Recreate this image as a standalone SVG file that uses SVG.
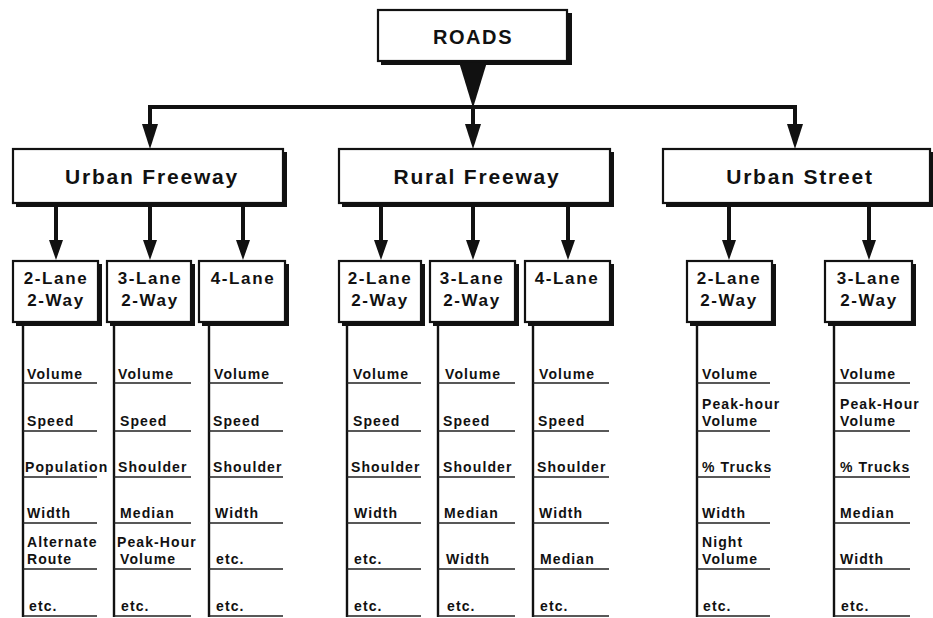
<svg xmlns="http://www.w3.org/2000/svg" width="933" height="618" viewBox="0 0 933 618">
<style>
.sh{fill:#111}
.bx{fill:#fff;stroke:#111;stroke-width:2.2}
.t{font-family:"Liberation Sans",Arial,Helvetica,sans-serif;font-weight:bold;fill:#111}
.root{font-size:20px;letter-spacing:1.6px}
.cat{font-size:21px;letter-spacing:1.8px}
.lane{font-size:17px;letter-spacing:1.6px}
.it{font-size:14px;letter-spacing:1.1px}
.ln{stroke:#111;stroke-width:4;fill:none}
.vl{stroke:#111;stroke-width:2.4;fill:none}
.ul{stroke:#222;stroke-width:1.6;fill:none}
.ah{fill:#111}
</style>
<rect width="933" height="618" fill="#fff"/>
<g id="connectors">
<polygon class="ah" points="459,62 487,62 473,108"/>
<line class="ln" x1="148" y1="107" x2="797" y2="107"/>
<line class="ln" x1="150" y1="107" x2="150" y2="128"/>
<line class="ln" x1="473" y1="107" x2="473" y2="128"/>
<line class="ln" x1="795" y1="107" x2="795" y2="128"/>
<polygon class="ah" points="142,124 158,124 150,149"/>
<polygon class="ah" points="465,124 481,124 473,149"/>
<polygon class="ah" points="787,124 803,124 795,149"/>
<g id="sub-arrows">
<line class="ln" x1="56" y1="203" x2="56" y2="243"/><polygon class="ah" points="49,240 63,240 56,260"/>
<line class="ln" x1="150" y1="203" x2="150" y2="243"/><polygon class="ah" points="143,240 157,240 150,260"/>
<line class="ln" x1="243" y1="203" x2="243" y2="243"/><polygon class="ah" points="236,240 250,240 243,260"/>
<line class="ln" x1="381" y1="203" x2="381" y2="243"/><polygon class="ah" points="374,240 388,240 381,260"/>
<line class="ln" x1="473" y1="203" x2="473" y2="243"/><polygon class="ah" points="466,240 480,240 473,260"/>
<line class="ln" x1="568" y1="203" x2="568" y2="243"/><polygon class="ah" points="561,240 575,240 568,260"/>
<line class="ln" x1="729" y1="203" x2="729" y2="243"/><polygon class="ah" points="722,240 736,240 729,260"/>
<line class="ln" x1="869" y1="203" x2="869" y2="243"/><polygon class="ah" points="862,240 876,240 869,260"/>
</g>
</g>
<g id="roads">
<rect class="sh" x="381" y="13" width="191" height="52"/>
<rect class="bx" x="378" y="10" width="189" height="51"/>
<text class="t root" x="473" y="44" text-anchor="middle">ROADS</text>
</g>
<g id="urban-freeway">
<rect class="sh" x="16" y="152" width="271" height="55"/>
<rect class="bx" x="13" y="149" width="270" height="54"/>
<text class="t cat" x="152" y="184" text-anchor="middle">Urban Freeway</text>
</g>
<g id="rural-freeway">
<rect class="sh" x="342" y="152" width="272" height="55"/>
<rect class="bx" x="339" y="149" width="271" height="54"/>
<text class="t cat" x="477" y="184" text-anchor="middle">Rural Freeway</text>
</g>
<g id="urban-street">
<rect class="sh" x="666" y="152" width="267" height="55"/>
<rect class="bx" x="663" y="149" width="267" height="54"/>
<text class="t cat" x="800" y="184" text-anchor="middle">Urban Street</text>
</g>
<g id="uf-2lane">
<rect class="sh" x="16" y="264" width="86" height="62"/>
<rect class="bx" x="13" y="261" width="85" height="61"/>
<text class="t lane" x="56" y="284" text-anchor="middle">2-Lane</text>
<text class="t lane" x="56" y="306" text-anchor="middle">2-Way</text>
</g>
<g id="uf-3lane">
<rect class="sh" x="110" y="264" width="85" height="62"/>
<rect class="bx" x="107" y="261" width="84" height="61"/>
<text class="t lane" x="150" y="284" text-anchor="middle">3-Lane</text>
<text class="t lane" x="150" y="306" text-anchor="middle">2-Way</text>
</g>
<g id="uf-4lane">
<rect class="sh" x="202" y="264" width="87" height="62"/>
<rect class="bx" x="199" y="261" width="86" height="61"/>
<text class="t lane" x="243" y="284" text-anchor="middle">4-Lane</text>
</g>
<g id="rf-2lane">
<rect class="sh" x="342" y="264" width="83" height="62"/>
<rect class="bx" x="339" y="261" width="82" height="61"/>
<text class="t lane" x="380" y="284" text-anchor="middle">2-Lane</text>
<text class="t lane" x="380" y="306" text-anchor="middle">2-Way</text>
</g>
<g id="rf-3lane">
<rect class="sh" x="433" y="264" width="86" height="62"/>
<rect class="bx" x="430" y="261" width="85" height="61"/>
<text class="t lane" x="472" y="284" text-anchor="middle">3-Lane</text>
<text class="t lane" x="472" y="306" text-anchor="middle">2-Way</text>
</g>
<g id="rf-4lane">
<rect class="sh" x="528" y="264" width="86" height="62"/>
<rect class="bx" x="525" y="261" width="85" height="61"/>
<text class="t lane" x="567" y="284" text-anchor="middle">4-Lane</text>
</g>
<g id="us-2lane">
<rect class="sh" x="690" y="264" width="86" height="62"/>
<rect class="bx" x="687" y="261" width="85" height="61"/>
<text class="t lane" x="729" y="284" text-anchor="middle">2-Lane</text>
<text class="t lane" x="729" y="306" text-anchor="middle">2-Way</text>
</g>
<g id="us-3lane">
<rect class="sh" x="828" y="264" width="88" height="62"/>
<rect class="bx" x="825" y="261" width="87" height="61"/>
<text class="t lane" x="869" y="284" text-anchor="middle">3-Lane</text>
<text class="t lane" x="869" y="306" text-anchor="middle">2-Way</text>
</g>
<g id="list-uf-2lane">
<line class="vl" x1="23" y1="322" x2="23" y2="617"/>
<path class="ul" d="M23 383H97M23 431H97M23 477H97M23 523H97M23 569H97M23 616H97"/>
<text class="t it" x="27" y="379">Volume</text>
<text class="t it" x="27" y="426">Speed</text>
<text class="t it" x="25" y="472">Population</text>
<text class="t it" x="27" y="518">Width</text>
<text class="t it" x="27" y="547">Alternate</text>
<text class="t it" x="27" y="564">Route</text>
<text class="t it" x="29" y="611">etc.</text>
</g>
<g id="list-uf-3lane">
<line class="vl" x1="114" y1="322" x2="114" y2="617"/>
<path class="ul" d="M114 383H191M114 431H191M114 477H191M114 523H191M114 569H191M114 616H191"/>
<text class="t it" x="118" y="379">Volume</text>
<text class="t it" x="120" y="426">Speed</text>
<text class="t it" x="118" y="472">Shoulder</text>
<text class="t it" x="120" y="518">Median</text>
<text class="t it" x="117" y="547">Peak-Hour</text>
<text class="t it" x="120" y="564">Volume</text>
<text class="t it" x="121" y="611">etc.</text>
</g>
<g id="list-uf-4lane">
<line class="vl" x1="209" y1="322" x2="209" y2="617"/>
<path class="ul" d="M209 383H283M209 431H283M209 477H283M209 523H283M209 569H283M209 616H283"/>
<text class="t it" x="214" y="379">Volume</text>
<text class="t it" x="213" y="426">Speed</text>
<text class="t it" x="213" y="472">Shoulder</text>
<text class="t it" x="215" y="518">Width</text>
<text class="t it" x="216" y="564">etc.</text>
<text class="t it" x="216" y="611">etc.</text>
</g>
<g id="list-rf-2lane">
<line class="vl" x1="347" y1="322" x2="347" y2="617"/>
<path class="ul" d="M347 383H421M347 431H421M347 477H421M347 523H421M347 569H421M347 616H421"/>
<text class="t it" x="353" y="379">Volume</text>
<text class="t it" x="353" y="426">Speed</text>
<text class="t it" x="351" y="472">Shoulder</text>
<text class="t it" x="354" y="518">Width</text>
<text class="t it" x="354" y="564">etc.</text>
<text class="t it" x="354" y="611">etc.</text>
</g>
<g id="list-rf-3lane">
<line class="vl" x1="438" y1="322" x2="438" y2="617"/>
<path class="ul" d="M438 383H515M438 431H515M438 477H515M438 523H515M438 569H515M438 616H515"/>
<text class="t it" x="445" y="379">Volume</text>
<text class="t it" x="443" y="426">Speed</text>
<text class="t it" x="443" y="472">Shoulder</text>
<text class="t it" x="444" y="518">Median</text>
<text class="t it" x="446" y="564">Width</text>
<text class="t it" x="447" y="611">etc.</text>
</g>
<g id="list-rf-4lane">
<line class="vl" x1="533" y1="322" x2="533" y2="617"/>
<path class="ul" d="M533 383H609M533 431H609M533 477H609M533 523H609M533 569H609M533 616H609"/>
<text class="t it" x="539" y="379">Volume</text>
<text class="t it" x="538" y="426">Speed</text>
<text class="t it" x="537" y="472">Shoulder</text>
<text class="t it" x="539" y="518">Width</text>
<text class="t it" x="540" y="564">Median</text>
<text class="t it" x="540" y="611">etc.</text>
</g>
<g id="list-us-2lane">
<line class="vl" x1="697" y1="322" x2="697" y2="617"/>
<path class="ul" d="M697 383H770M697 431H770M697 477H770M697 523H770M697 569H770M697 616H770"/>
<text class="t it" x="702" y="379">Volume</text>
<text class="t it" x="702" y="409">Peak-hour</text>
<text class="t it" x="702" y="426">Volume</text>
<text class="t it" x="702" y="472">% Trucks</text>
<text class="t it" x="702" y="518">Width</text>
<text class="t it" x="702" y="547">Night</text>
<text class="t it" x="702" y="564">Volume</text>
<text class="t it" x="703" y="611">etc.</text>
</g>
<g id="list-us-3lane">
<line class="vl" x1="834" y1="322" x2="834" y2="617"/>
<path class="ul" d="M834 383H910M834 431H910M834 477H910M834 523H910M834 569H910M834 616H910"/>
<text class="t it" x="840" y="379">Volume</text>
<text class="t it" x="840" y="409">Peak-Hour</text>
<text class="t it" x="840" y="426">Volume</text>
<text class="t it" x="840" y="472">% Trucks</text>
<text class="t it" x="840" y="518">Median</text>
<text class="t it" x="840" y="564">Width</text>
<text class="t it" x="841" y="611">etc.</text>
</g>
</svg>
